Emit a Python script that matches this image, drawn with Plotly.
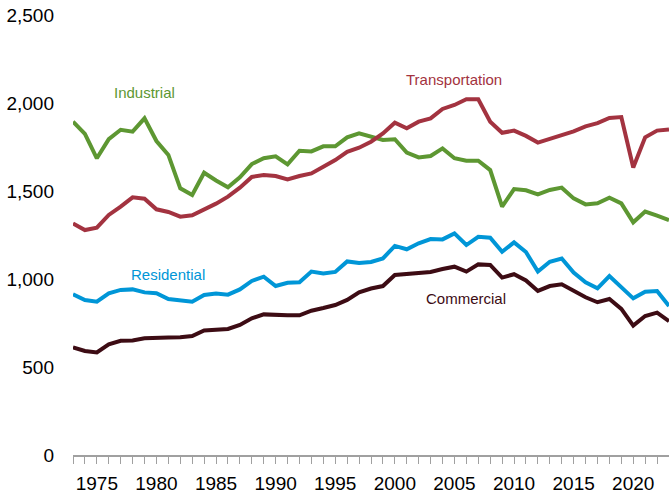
import plotly.graph_objects as go

years = list(range(1973, 2024))

industrial = [1894, 1824, 1686, 1795, 1848, 1837, 1913, 1784, 1705, 1515,
              1477, 1604, 1560, 1521, 1578, 1653, 1686, 1697, 1651, 1729,
              1725, 1754, 1754, 1805, 1828, 1809, 1790, 1794, 1718, 1691,
              1699, 1742, 1686, 1672, 1672, 1619, 1411, 1511, 1504, 1481,
              1506, 1519, 1458, 1424, 1430, 1462, 1430, 1322, 1383, 1360,
              1335]

transportation = [1316, 1278, 1292, 1364, 1411, 1464, 1456, 1396, 1381, 1354,
                  1362, 1392, 1428, 1468, 1519, 1580, 1591, 1585, 1566, 1585,
                  1600, 1638, 1676, 1723, 1746, 1780, 1827, 1888, 1856, 1894,
                  1913, 1966, 1989, 2021, 2021, 1894, 1831, 1843, 1813, 1775,
                  1797, 1816, 1839, 1867, 1886, 1915, 1920, 1634, 1805, 1843,
                  1850]

residential = [913, 881, 871, 919, 938, 941, 924, 919, 886, 881,
               871, 909, 917, 911, 941, 989, 1013, 960, 979, 981,
               1042, 1032, 1040, 1100, 1091, 1097, 1117, 1188, 1169, 1203,
               1227, 1225, 1259, 1193, 1240, 1235, 1155, 1208, 1153, 1042,
               1098, 1116, 1036, 981, 947, 1017, 956, 890, 928, 932,
               847]

commercial = [612, 591, 583, 629, 649, 651, 663, 667, 667, 669,
              676, 708, 710, 716, 739, 777, 799, 794, 794, 794,
              820, 835, 852, 881, 924, 946, 960, 1023, 1028, 1030,
              1040, 1057, 1070, 1042, 1083, 1080, 1008, 1027, 992, 932,
              960, 970, 934, 896, 868, 886, 830, 735, 790, 809,
              760]

series_names = ["Industrial", "Transportation", "Residential", "Commercial"]
series_values = [industrial, transportation, residential, commercial]
colors = ["#5d9732", "#a33340", "#0096d7", "#3d0c14"]

label_x = [1979, 2005, 1981, 2006]
label_y = [2058, 2135, 1027, 887]

y_tickvals = [0, 500, 1000, 1500, 2000, 2500]
y_ticktext = ["0", "500", "1,000", "1,500", "2,000", "2,500"]

FONT = "Liberation Sans, Arial, sans-serif"

fig = go.Figure()
for name, vals, col in zip(series_names, series_values, colors):
    fig.add_trace(go.Scatter(x=years, y=vals, mode="lines", name=name,
                             line=dict(color=col, width=4)))

for name, lx, ly, col in zip(series_names, label_x, label_y, colors):
    fig.add_annotation(x=lx, y=ly, text=name, showarrow=False,
                       xanchor="center", yanchor="middle",
                       font=dict(family=FONT, size=15, color=col))

fig.update_layout(
    width=669, height=495,
    margin=dict(l=73, r=0, t=15, b=40),
    paper_bgcolor="white", plot_bgcolor="white",
    showlegend=False,
    font=dict(family=FONT, size=19, color="#000000"),
)
fig.update_xaxes(
    range=[1973, 2023], tick0=1975, dtick=5,
    automargin=False,
    showgrid=False, zeroline=False,
    showline=True, linecolor="#a0a0a0", linewidth=1.5,
    ticks="outside", ticklen=7, tickwidth=1.3, tickcolor="#a0a0a0",
    minor=dict(dtick=1, tick0=1973, ticks="outside", ticklen=7,
               tickwidth=1.3, tickcolor="#a0a0a0", showgrid=False),
    ticklabelstandoff=3,
    tickfont=dict(family=FONT, size=19, color="#000000"),
)
fig.update_yaxes(
    range=[0, 2500], tickvals=y_tickvals, ticktext=y_ticktext,
    automargin=False,
    showgrid=False, zeroline=False, showline=False, ticks="",
    ticklabelstandoff=18,
    tickfont=dict(family=FONT, size=19, color="#000000"),
)

fig.write_html("out.html",
               config={"displayModeBar": False},
               post_script="document.body.style.margin='0';"
                           "document.body.style.overflow='hidden';")
